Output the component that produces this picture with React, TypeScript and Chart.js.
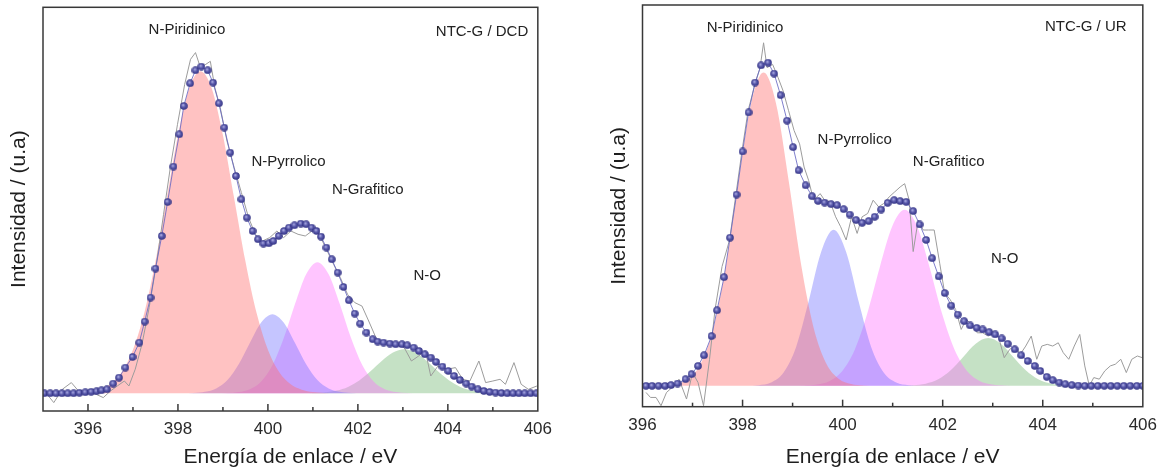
import { useEffect, useRef } from 'react';
import { Chart, registerables } from 'chart.js';
Chart.register(...registerables);

const FONT = '"Liberation Sans", Arial, Helvetica, sans-serif';

// ---------- Panel 1: NTC-G / DCD ----------
const dcdEnvE = [395.03, 395.16, 395.29, 395.42, 395.55, 395.68, 395.81, 395.94, 396.07, 396.19, 396.30, 396.42, 396.56, 396.69, 396.83, 396.99, 397.14, 397.26, 397.39, 397.50, 397.64, 397.77, 397.90, 398.03, 398.13, 398.27, 398.39, 398.52, 398.66, 398.78, 398.91, 399.03, 399.16, 399.29, 399.41, 399.53, 399.66, 399.78, 399.90, 400.02, 400.12, 400.24, 400.36, 400.47, 400.59, 400.73, 400.85, 400.97, 401.08, 401.18, 401.30, 401.42, 401.55, 401.68, 401.80, 401.93, 402.05, 402.19, 402.33, 402.44, 402.57, 402.71, 402.84, 402.98, 403.10, 403.24, 403.36, 403.49, 403.62, 403.74, 403.88, 404.01, 404.14, 404.27, 404.41, 404.53, 404.67, 404.80, 404.93, 405.06, 405.19, 405.32, 405.45, 405.58, 405.71, 405.84, 405.97];
const dcdEnvI = [0, 0, 0, 0, 0, 0, 0.5, 1, 1.5, 2, 3, 4, 9.7, 15.7, 25.7, 36.3, 50.7, 71.7, 95.7, 124.7, 157.3, 191.3, 226.7, 259, 287.3, 310, 323, 326.7, 323, 310.7, 290, 265.7, 240.7, 217.3, 194, 175.7, 162.3, 154, 149.7, 150, 152.3, 157.3, 162.3, 165.7, 168, 169.7, 169, 165.7, 162.3, 156.7, 145.7, 134, 120.7, 106.3, 93, 79.7, 69.7, 60.7, 54, 51.7, 50.7, 49.7, 49, 49, 48, 45.7, 42.3, 39, 35.7, 31.3, 26.7, 22.3, 17.3, 13.3, 9.7, 6.7, 4, 2.3, 1.3, 0.7, 0.3, 0, 0, 0, 0, 0, 0];

const dcdRawE = [395.06, 395.24, 395.43, 395.63, 395.79, 395.98, 396.18, 396.34, 396.5, 396.65, 396.81, 396.91, 397.05, 397.2, 397.36, 397.52, 397.68, 397.83, 397.99, 398.15, 398.28, 398.39, 398.5, 398.62, 398.72, 398.82, 398.94, 399.09, 399.25, 399.41, 399.57, 399.72, 399.88, 400.04, 400.2, 400.35, 400.51, 400.67, 400.83, 400.98, 401.14, 401.3, 401.46, 401.61, 401.77, 401.93, 402.09, 402.24, 402.4, 402.56, 402.72, 402.87, 403.03, 403.19, 403.35, 403.5, 403.62, 403.78, 403.98, 404.17, 404.33, 404.49, 404.69, 404.84, 405.0, 405.16, 405.28, 405.47, 405.63, 405.79, 405.98];
const dcdRawI = [0.7, -9.3, 4, 10.7, 2.3, 1.7, -1, -4.3, 2.3, 7.3, 12.3, 7.3, 24, 49, 85.7, 129, 179, 225.7, 269, 309, 334, 340.7, 325.7, 329, 332, 305.7, 285.7, 252.3, 225.7, 200.7, 175.7, 159, 152.3, 155.7, 162.3, 155.7, 162.3, 159, 157.3, 162.3, 159, 144, 129, 115.7, 99, 90.7, 87.3, 72.3, 55.7, 49, 50.7, 49, 45.7, 32.3, 37.3, 42.3, 17.3, 27.3, 24, 25.7, 14, 12.3, 32.3, 10.7, 12.3, 14, 9, 30.7, 9, 4, 7.3];

const dcdPyridE = [395.5, 395.75, 396, 396.25, 396.5, 396.75, 397, 397.25, 397.5, 397.75, 398, 398.25, 398.5, 398.75, 399, 399.25, 399.5, 399.75, 400, 400.25, 400.5, 400.75, 401, 401.25, 401.5];
const dcdPyridI = [0, 0.4, 1.2, 3.6, 9.2, 21.2, 43.6, 80, 132, 195, 258, 305, 322, 305, 258, 195, 132, 80, 43.6, 21.2, 9.2, 3.6, 1.2, 0.4, 0];
const dcdPyrrE = [398.1, 398.35, 398.6, 398.85, 399.1, 399.35, 399.6, 399.85, 400.1, 400.35, 400.6, 400.85, 401.1, 401.35, 401.6, 401.85, 402.1];
const dcdPyrrI = [0, 0.34, 1.45, 4.9, 13.3, 29, 50.6, 70.7, 79, 70.7, 50.6, 29, 13.3, 4.9, 1.45, 0.34, 0];
const dcdGrafE = [398.85, 399.1, 399.35, 399.6, 399.85, 400.1, 400.35, 400.6, 400.85, 401.1, 401.35, 401.6, 401.85, 402.1, 402.35, 402.6, 402.85, 403.1, 403.35];
const dcdGrafI = [0, 0.27, 1.2, 4.1, 11.8, 28, 55, 89, 119, 131, 119, 89, 55, 28, 11.8, 4.1, 1.2, 0.27, 0];
const dcdNOE = [400.78, 401.03, 401.28, 401.53, 401.78, 402.03, 402.28, 402.53, 402.78, 403.03, 403.28, 403.53, 403.78, 404.03, 404.28, 404.53, 404.78, 405.03, 405.28];
const dcdNOI = [0, 0.3, 1, 2.75, 6.4, 12.8, 22, 32.3, 40.7, 44, 40.7, 32.3, 22, 12.8, 6.4, 2.75, 1, 0.3, 0];

// ---------- Panel 2: NTC-G / UR ----------
const urEnvE = [396.07, 396.19, 396.32, 396.45, 396.57, 396.70, 396.86, 396.98, 397.11, 397.23, 397.38, 397.49, 397.63, 397.75, 397.88, 398.00, 398.12, 398.25, 398.37, 398.51, 398.63, 398.76, 398.89, 399.01, 399.12, 399.26, 399.39, 399.51, 399.64, 399.77, 399.89, 400.02, 400.14, 400.27, 400.39, 400.52, 400.64, 400.77, 400.90, 401.03, 401.15, 401.27, 401.41, 401.54, 401.67, 401.79, 401.92, 402.04, 402.17, 402.30, 402.43, 402.55, 402.68, 402.80, 402.93, 403.05, 403.18, 403.30, 403.44, 403.57, 403.70, 403.84, 403.95, 404.08, 404.20, 404.33, 404.45, 404.58, 404.71, 404.84, 404.97, 405.10, 405.23, 405.36, 405.49, 405.62, 405.75, 405.88, 406.00];
const urEnvI = [0, 0, 0, 0, 0.7, 2.3, 6.7, 11.7, 20, 30.7, 50, 76, 109.3, 149, 192.3, 235.7, 275, 305, 322.3, 325, 314, 292.3, 266.7, 240, 216.7, 201.7, 190.7, 186, 184.3, 182.7, 181.7, 177.7, 172.3, 166.7, 164, 165.7, 170, 177.3, 184, 186.7, 185.7, 185, 175.7, 162.3, 146.7, 128.3, 110, 93.3, 80.7, 71.7, 65, 60.7, 58.3, 56.7, 54, 51.7, 47.7, 42.3, 36.7, 30.7, 25, 20, 15, 9, 5.7, 3.3, 1.7, 0.7, 0.3, 0, 0, 0, 0, 0, 0, 0, 0, 0, 0];

const urRawE = [396.07, 396.16, 396.27, 396.37, 396.48, 396.59, 396.73, 396.88, 397.0, 397.11, 397.22, 397.34, 397.45, 397.59, 397.74, 397.87, 397.99, 398.11, 398.24, 398.35, 398.42, 398.49, 398.6, 398.71, 398.81, 398.92, 399.03, 399.14, 399.23, 399.32, 399.42, 399.55, 399.64, 399.75, 399.86, 399.96, 400.07, 400.18, 400.29, 400.39, 400.5, 400.61, 400.72, 400.82, 400.93, 401.04, 401.15, 401.24, 401.33, 401.41, 401.51, 401.61, 401.72, 401.83, 401.94, 402.04, 402.15, 402.26, 402.37, 402.47, 402.58, 402.69, 402.8, 402.91, 403.01, 403.12, 403.23, 403.34, 403.44, 403.55, 403.66, 403.77, 403.88, 403.98, 404.09, 404.2, 404.31, 404.41, 404.52, 404.63, 404.74, 404.84, 404.93, 405.02, 405.13, 405.24, 405.35, 405.45, 405.56, 405.67, 405.78, 405.89, 405.99];
const urRawI = [-6.7, -11.7, -11.7, -20, -6.7, -1.7, 6.7, -13.3, 13.3, 3.3, -20, 26.7, 76.7, 120, 146.7, 193.3, 236.7, 276.7, 301.7, 320, 345, 320, 323.3, 310, 296.7, 276.7, 256.7, 243.3, 220, 206.7, 186.7, 193.3, 186.7, 185, 170, 160, 146.7, 170, 153.3, 170, 173.3, 186.7, 180, 183.3, 190, 195, 200, 203.3, 186.7, 135, 166.7, 156.7, 156.7, 156.7, 123.3, 93.3, 86.7, 76.7, 56.7, 66.7, 61.7, 53.3, 53.3, 50, 55, 48.3, 28.3, 36.7, 40, 31.7, 40, 50, 26.7, 40, 41.7, 40, 43.3, 33.3, 26.7, 40, 51.7, 20, 0, 8.3, 6.7, 15, 20, 21.7, 26.7, 13.3, 26.7, 30, 28.3];

const urPyridE = [396.17, 396.42, 396.67, 396.92, 397.17, 397.42, 397.67, 397.92, 398.17, 398.42, 398.67, 398.92, 399.17, 399.42, 399.67, 399.92, 400.17, 400.42, 400.67];
const urPyridI = [0, 0.4, 1.8, 7.1, 22.7, 58.5, 122, 206.8, 283.6, 315, 283.6, 206.8, 122, 58.5, 22.7, 7.1, 1.8, 0.4, 0];
const urPyrrE = [398.07, 398.32, 398.57, 398.82, 399.07, 399.32, 399.57, 399.82, 400.07, 400.32, 400.57, 400.82, 401.07, 401.32, 401.57];
const urPyrrI = [0, 0.6, 3.3, 13.3, 39.1, 84.7, 134.6, 157, 134.6, 84.7, 39.1, 13.3, 3.3, 0.6, 0];
const urGrafE = [398.99, 399.24, 399.49, 399.74, 399.99, 400.24, 400.49, 400.74, 400.99, 401.24, 401.49, 401.74, 401.99, 402.24, 402.49, 402.74, 402.99, 403.24, 403.49];
const urGrafI = [0, 0.3, 1.3, 4.9, 14.6, 35.9, 72.2, 118.8, 160.2, 177, 160.2, 118.8, 72.2, 35.9, 14.6, 4.9, 1.3, 0.3, 0];
const urNOE = [401.16, 401.41, 401.66, 401.91, 402.16, 402.41, 402.66, 402.91, 403.16, 403.41, 403.66, 403.91, 404.16, 404.41, 404.66];
const urNOI = [0, 0.5, 2.1, 6.5, 15.6, 29.1, 42.4, 48, 42.4, 29.1, 15.6, 6.5, 2.1, 0.5, 0];

// ---------- axes ----------
const xTickLabels = [396, 398, 400, 402, 404, 406];
const dcdTickMarks = [396, 397, 398, 399, 400, 401, 402, 403, 404, 405];
const urTickMarks = [397, 398, 399, 400, 401, 402, 403, 404, 405];
const componentNames = ['N-Piridinico', 'N-Pyrrolico', 'N-Grafitico', 'N-O'];

const X_TITLE = 'Energía de enlace / eV';
const Y_TITLE = 'Intensidad / (u.a)';

type Label = { text: string; x: number; y: number };

const dcdLabels: Label[] = [
  { text: 'N-Piridinico', x: 398.2, y: 363 },
  { text: 'NTC-G / DCD', x: 404.76, y: 361.7 },
  { text: 'N-Pyrrolico', x: 400.46, y: 231 },
  { text: 'N-Grafitico', x: 402.22, y: 203.7 },
  { text: 'N-O', x: 403.54, y: 117 },
];
const urLabels: Label[] = [
  { text: 'N-Piridinico', x: 398.05, y: 360 },
  { text: 'NTC-G / UR', x: 404.86, y: 361 },
  { text: 'N-Pyrrolico', x: 400.24, y: 247 },
  { text: 'N-Grafitico', x: 402.12, y: 225.5 },
  { text: 'N-O', x: 403.24, y: 127.5 },
];

const FILLS = ['rgba(255,110,110,0.42)', 'rgba(110,110,255,0.4)', 'rgba(255,110,255,0.4)', 'rgba(110,180,110,0.4)'];

const pts = (xs: number[], ys: number[]) => xs.map((x, i) => ({ x, y: ys[i] }));

function makeSphere(d: number) {
  const c = document.createElement('canvas');
  c.width = d;
  c.height = d;
  const g = c.getContext('2d')!;
  const r = d / 2;
  const grad = g.createRadialGradient(r * 0.8, r * 0.75, r * 0.1, r, r, r);
  grad.addColorStop(0, '#a8a8e0');
  grad.addColorStop(0.4, '#5c5cad');
  grad.addColorStop(1, '#2e2e80');
  g.fillStyle = grad;
  g.beginPath();
  g.arc(r, r, r - 0.2, 0, Math.PI * 2);
  g.fill();
  return c;
}

type PanelCfg = {
  canvasLeft: number;
  canvasWidth: number;
  xMin: number;
  xMax: number;
  yMin: number;
  yMax: number;
  padTop: number;
  padRight: number;
  yWidth: number;
  xHeight: number;
  env: { x: number; y: number }[];
  raw: { x: number; y: number }[];
  comps: { x: number; y: number }[][];
  tickMarks: number[];
  labels: Label[];
};

const panels: PanelCfg[] = [
  {
    canvasLeft: 0, canvasWidth: 560,
    xMin: 395, xMax: 406, yMin: -17.7, yMax: 386,
    padTop: 7.3, padRight: 18.3, yWidth: 43, xHeight: 60,
    env: pts(dcdEnvE, dcdEnvI), raw: pts(dcdRawE, dcdRawI),
    comps: [pts(dcdPyridE, dcdPyridI), pts(dcdPyrrE, dcdPyrrI), pts(dcdGrafE, dcdGrafI), pts(dcdNOE, dcdNOI)],
    tickMarks: dcdTickMarks, labels: dcdLabels,
  },
  {
    canvasLeft: 600, canvasWidth: 565,
    xMin: 396, xMax: 406, yMin: -21, yMax: 383,
    padTop: 2.7, padRight: 20, yWidth: 42.5, xHeight: 64.3,
    env: pts(urEnvE, urEnvI), raw: pts(urRawE, urRawI),
    comps: [pts(urPyridE, urPyridI), pts(urPyrrE, urPyrrI), pts(urGrafE, urGrafI), pts(urNOE, urNOI)],
    tickMarks: urTickMarks, labels: urLabels,
  },
];

const framePlugin = (cfg: PanelCfg) => ({
  id: 'frame',
  afterDraw(chart: any) {
    const { ctx, chartArea: a, scales } = chart;
    const x = scales.x;
    const y = scales.y;
    ctx.save();
    ctx.strokeStyle = '#383838';
    ctx.lineWidth = 1.5;
    cfg.tickMarks.forEach((v) => {
      const px = x.getPixelForValue(v);
      const len = v % 2 === 0 ? 7 : 4;
      ctx.beginPath();
      ctx.moveTo(px, a.bottom);
      ctx.lineTo(px, a.bottom - len);
      ctx.stroke();
    });
    ctx.strokeRect(a.left, a.top, a.right - a.left, a.bottom - a.top);
    ctx.fillStyle = '#222';
    ctx.font = `15px ${FONT}`;
    ctx.textAlign = 'center';
    ctx.textBaseline = 'middle';
    cfg.labels.forEach((l) => {
      ctx.fillText(l.text, x.getPixelForValue(l.x), y.getPixelForValue(l.y));
    });
    ctx.restore();
  },
});

function Panel({ cfg }: { cfg: PanelCfg }) {
  const ref = useRef<HTMLCanvasElement>(null);
  useEffect(() => {
    const sphere = makeSphere(8);
    const compSets = cfg.comps.map((data, i) => ({
      label: componentNames[i],
      data,
      borderWidth: 0,
      borderColor: 'rgba(0,0,0,0)',
      backgroundColor: FILLS[i],
      fill: 'origin',
      pointRadius: 0,
      tension: 0.4,
      cubicInterpolationMode: 'monotone' as const,
    }));
    const chart = new Chart(ref.current!, {
      type: 'line',
      data: {
        datasets: [
          {
            label: 'Envolvente',
            data: cfg.env,
            borderColor: 'rgba(105,105,195,0.85)',
            borderWidth: 1,
            pointStyle: sphere as any,
            pointRadius: 4,
            fill: false,
          },
          {
            label: 'Experimental',
            data: cfg.raw,
            borderColor: '#9c9c9c',
            borderWidth: 1,
            pointRadius: 0,
            fill: false,
          },
          ...compSets,
        ] as any,
      },
      options: {
        animation: false,
        responsive: false,
        devicePixelRatio: 1,
        events: [],
        layout: { padding: { top: cfg.padTop, right: cfg.padRight, left: 0, bottom: 0 } },
        plugins: { legend: { display: false }, tooltip: { enabled: false } },
        scales: {
          x: {
            type: 'linear',
            min: cfg.xMin,
            max: cfg.xMax,
            grid: { display: false, drawTicks: false },
            border: { display: false },
            afterBuildTicks: (s: any) => {
              s.ticks = xTickLabels.map((v) => ({ value: v }));
            },
            afterFit: (s: any) => {
              s.height = cfg.xHeight;
            },
            ticks: {
              padding: 8,
              autoSkip: false,
              maxRotation: 0,
              color: '#2a2a2a',
              font: { family: FONT, size: 17 },
              callback: (v: any) => String(v),
            },
            title: {
              display: true,
              text: X_TITLE,
              color: '#1e1e1e',
              font: { family: FONT, size: 21 },
              padding: { top: 0, bottom: 1 },
            },
          },
          y: {
            type: 'linear',
            min: cfg.yMin,
            max: cfg.yMax,
            grid: { display: false, drawTicks: false },
            border: { display: false },
            ticks: { display: false },
            afterFit: (s: any) => {
              s.width = cfg.yWidth;
            },
            title: {
              display: true,
              text: Y_TITLE,
              color: '#1e1e1e',
              font: { family: FONT, size: 21 },
              padding: { top: 7, bottom: 0 },
            },
          },
        },
      } as any,
      plugins: [framePlugin(cfg)],
    });
    return () => chart.destroy();
  }, [cfg]);
  return (
    <canvas
      ref={ref}
      width={cfg.canvasWidth}
      height={471}
      style={{ position: 'absolute', left: cfg.canvasLeft, top: 0, width: cfg.canvasWidth, height: 471 }}
    />
  );
}

export default function App() {
  return (
    <div style={{ position: 'absolute', left: 0, top: 0, width: 1165, height: 471, background: '#fff', overflow: 'hidden' }}>
      {panels.map((p, i) => (
        <Panel key={i} cfg={p} />
      ))}
    </div>
  );
}
